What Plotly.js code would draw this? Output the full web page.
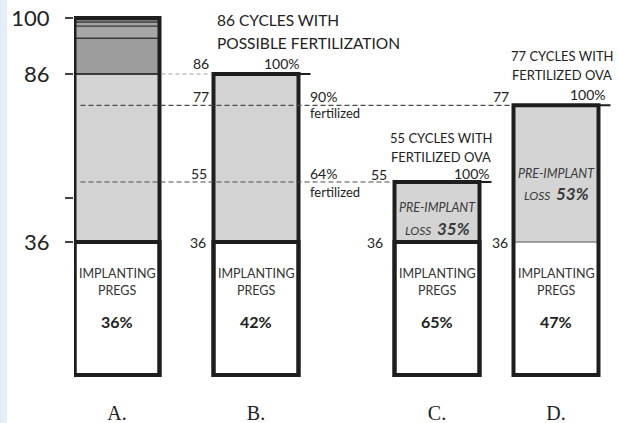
<!DOCTYPE html>
<html><head><meta charset="utf-8">
<script src="https://cdn.plot.ly/plotly-3.0.1.min.js"></script>
<style>html,body{margin:0;padding:0;background:#fff;}#chart{width:619px;height:423px;}</style>
</head><body><div id="chart"></div>
<script>
// ---- data ----
const groups = ['A.', 'B.', 'C.', 'D.'];
const implanting = [36, 36, 36, 36];          // implanting pregnancies (count)
const cycleTotals = [100, 86, 55, 77];        // cycles in each group
const implantPct = [36, 42, 65, 47];          // % implanting
const lossPct = [null, null, 35, 53];         // % pre-implant loss
const groupATopBounds = [86, 95, 98, 99, 100];// boundaries of upper segments in A
const fertLevels = [77, 55];                  // fertilized-cycle counts
const fertPct = [90, 64];                     // % fertilized
const axisTicks = [100, 86, 50, 36];
const axisTickText = ['100', '86', '', '36'];

// ---- schematic (piecewise) scale: value -> axis position ----
const knots = [[0, 0], [36, 133], [55, 193], [86, 301], [100, 357]];
function ymap(v) {
  for (let i = 1; i < knots.length; i++) {
    if (v <= knots[i][0]) {
      const [v0, p0] = knots[i - 1], [v1, p1] = knots[i];
      return p0 + (v - v0) * (p1 - p0) / (v1 - v0);
    }
  }
  return knots[knots.length - 1][1];
}
const TOP = 375; // axis value at top pixel row
const py = p => TOP - p;

// ---- layout positions ----
const xPos = [117, 256, 437, 556];
const BW = 85;
const FONT = 'Lato, "Open Sans", sans-serif';
const INK = '#222222';

const traces = [];
// grey segments (36 -> top)
traces.push({
  type: 'bar', x: xPos, base: implanting.map(v => ymap(v)),
  y: cycleTotals.map((t, i) => ymap(Math.min(t, 86)) - ymap(implanting[i])), width: BW - 3,
  marker: {color: '#d4d4d4', line: {width: 0}},
  hoverinfo: 'skip', showlegend: false
});
// group A upper segments
const segCols = ['#9d9d9d', '#a6a6a6', '#a2a2a2', '#7a7a7a'];
traces.push({
  type: 'bar', x: groupATopBounds.slice(0, -1).map(() => xPos[0]),
  base: groupATopBounds.slice(0, -1).map(v => ymap(v)),
  y: groupATopBounds.slice(1).map((v, i) => ymap(v) - ymap(groupATopBounds[i])), width: BW,
  marker: {color: segCols, line: {color: '#3a3a3a', width: [2, 1.2, 1.2, 1.2]}},
  hoverinfo: 'skip', showlegend: false
});
// white implanting segments
traces.push({
  type: 'bar', x: xPos, base: implanting.map(() => ymap(0)),
  y: implanting.map(v => ymap(v) - ymap(0)), width: BW,
  marker: {color: '#ffffff', line: {color: ['#1e1e1e','#1e1e1e','#1e1e1e','#555'], width: [4,4,4,1.2]}},
  hoverinfo: 'skip', showlegend: false
});
// dashed reference lines
traces.push({type: 'scatter', mode: 'lines', x: [xPos[0] + BW / 2 + 2, xPos[1] - BW / 2 - 2], y: [ymap(86), ymap(86)],
  line: {color: '#a0a0a0', width: 1, dash: '4px,3px'}, hoverinfo: 'skip', showlegend: false});
traces.push({type: 'scatter', mode: 'lines', x: [xPos[0] - BW / 2 + 6, xPos[3] - BW / 2 - 2], y: [ymap(fertLevels[0]), ymap(fertLevels[0])],
  line: {color: '#4a4a4a', width: 1.2, dash: '5px,3px'}, hoverinfo: 'skip', showlegend: false});
traces.push({type: 'scatter', mode: 'lines', x: [xPos[0] - BW / 2 + 6, xPos[2] - BW / 2 - 2], y: [ymap(fertLevels[1]), ymap(fertLevels[1])],
  line: {color: '#4a4a4a', width: 1.2, dash: '5px,3px'}, hoverinfo: 'skip', showlegend: false});
// outlines
traces.push({
  type: 'bar', x: xPos, base: cycleTotals.map(() => ymap(0)),
  y: cycleTotals.map(t => ymap(t) - ymap(0)), width: BW,
  marker: {color: 'rgba(0,0,0,0)', line: {color: '#1e1e1e', width: 4}},
  hoverinfo: 'skip', showlegend: false
});
// top extension lines for B, C, D
[1, 2, 3].forEach(i => {
  traces.push({type: 'scatter', mode: 'lines', x: [xPos[i] - BW / 2, xPos[i] + BW / 2 + 12], y: [ymap(cycleTotals[i]), ymap(cycleTotals[i])],
    line: {color: '#1e1e1e', width: 2}, hoverinfo: 'skip', showlegend: false});
});

const ann = [];
function A(x, y, text, o) {
  o = o || {};
  ann.push(Object.assign({x: x, y: y, xref: 'x', yref: 'y', text: text, showarrow: false,
    xanchor: 'center', yanchor: 'middle', font: {family: FONT, size: 14, color: INK}}, o));
}
// headings
A(215, py(20), '86 CYCLES WITH', {xanchor: 'left', font: {family: FONT, size: 15.5, color: INK}});
A(215, py(43), 'POSSIBLE FERTILIZATION', {xanchor: 'left', font: {family: FONT, size: 15.5, color: INK}});
A(441, py(138), cycleTotals[2] + ' CYCLES WITH', {font: {family: FONT, size: 13, color: INK}});
A(441, py(157), 'FERTILIZED OVA', {font: {family: FONT, size: 13, color: INK}});
A(562, py(56), cycleTotals[3] + ' CYCLES WITH', {font: {family: FONT, size: 13, color: INK}});
A(562, py(75), 'FERTILIZED OVA', {font: {family: FONT, size: 13, color: INK}});

// level labels beside B
A(201, ymap(cycleTotals[1]), String(cycleTotals[1]), {yshift: 11});
A(302, ymap(cycleTotals[1]), '100%', {xanchor: 'right', yshift: 11});
A(201, ymap(fertLevels[0]), String(fertLevels[0]), {yshift: 9});
A(308, ymap(fertLevels[0]), fertPct[0] + '%', {xanchor: 'left', yshift: 9});
A(308, ymap(fertLevels[0]), 'fertilized', {xanchor: 'left', yshift: -8, font: {family: FONT, size: 13, color: INK}});
A(199, ymap(fertLevels[1]), String(fertLevels[1]), {yshift: 9});
A(308, ymap(fertLevels[1]), fertPct[1] + '%', {xanchor: 'left', yshift: 9});
A(308, ymap(fertLevels[1]), 'fertilized', {xanchor: 'left', yshift: -10, font: {family: FONT, size: 13, color: INK}});
A(198, ymap(implanting[1]), String(implanting[1]));
// C
A(379, ymap(cycleTotals[2]), String(cycleTotals[2]), {yshift: 8});
A(492, ymap(cycleTotals[2]), '100%', {xanchor: 'right', yshift: 9});
A(375, ymap(implanting[2]), String(implanting[2]));
// D
A(501, ymap(cycleTotals[3]), String(cycleTotals[3]), {yshift: 9});
A(608, ymap(cycleTotals[3]), '100%', {xanchor: 'right', yshift: 11});
A(500, ymap(implanting[3]), String(implanting[3]));

// inside bars
xPos.forEach((x, i) => {
  A(x, py(273), 'IMPLANTING', {font: {family: FONT, size: 12.5, color: '#333'}});
  A(x, py(290), 'PREGS', {font: {family: FONT, size: 12.5, color: '#333'}});
  A(x, py(321), '<b>' + implantPct[i] + '%</b>', {font: {family: FONT, size: 16, color: INK}});
});
const lossY = [null, null, [207, 228], [173, 193]];
[2, 3].forEach(i => {
  A(xPos[i], py(lossY[i][0]), '<i>PRE-IMPLANT</i>', {font: {family: FONT, size: 12.5, color: '#3a3a3a'}});
  A(xPos[i], py(lossY[i][1]), '<i>LOSS  <b><span style="font-size:17px">' + lossPct[i] + '%</span></b></i>',
    {font: {family: FONT, size: 12, color: '#3a3a3a'}});
});

const layout = {
  width: 619, height: 423,
  margin: {l: 74, r: 0, t: 0, b: 44},
  paper_bgcolor: '#ffffff', plot_bgcolor: 'rgba(0,0,0,0)',
  barmode: 'overlay', showlegend: false,
  xaxis: {range: [74, 619], tickvals: xPos, ticktext: groups, showgrid: false, zeroline: false,
    showline: false, ticks: '', ticklabelstandoff: 20,
    tickfont: {family: '"Liberation Serif", "DejaVu Serif", serif', size: 20, color: INK}, fixedrange: true},
  yaxis: {range: [-4, TOP], tickvals: axisTicks.map(ymap), ticktext: axisTickText,
    showgrid: false, zeroline: false, showline: false, ticks: 'outside', ticklen: 8, tickwidth: 1.5,
    tickcolor: '#444', ticklabelstandoff: 11,
    tickfont: {family: FONT, size: 22, color: INK}, fixedrange: true},
  shapes: [{type: 'rect', xref: 'paper', yref: 'paper', x0: -74 / 545, x1: -67 / 545, y0: -1, y1: 1.2,
    fillcolor: '#e4eef9', line: {width: 0}, layer: 'below'}],
  annotations: ann
};
Plotly.newPlot('chart', traces, layout, {staticPlot: true, displayModeBar: false});
</script></body></html>
